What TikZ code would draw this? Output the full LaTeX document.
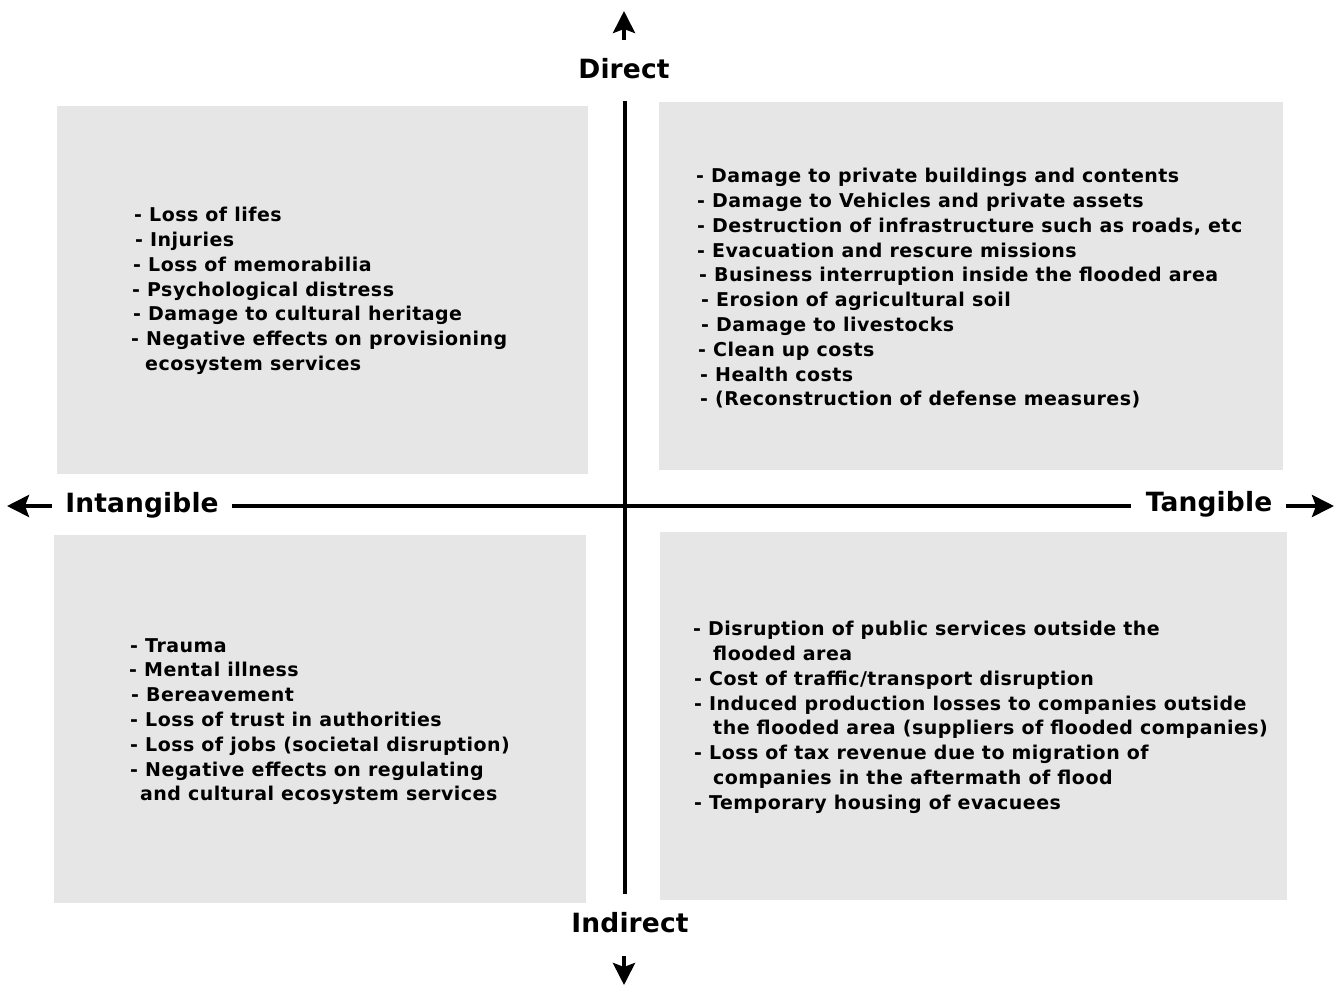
\documentclass[tikz,border=0pt]{standalone}
\usepackage{fontspec}
\setmainfont{DejaVu Sans}
\usetikzlibrary{arrows.meta}
\definecolor{boxgray}{HTML}{E6E6E6}
\tikzset{
  quad/.style={fill=boxgray, draw=none},
  listtext/.style={anchor=north west, inner sep=0pt, align=left, font=\bfseries\fontsize{19}{24.8}\selectfont\addfontfeatures{LetterSpace=2.5}},
  axislabel/.style={inner sep=0pt, font=\bfseries\fontsize{26.5}{30}\selectfont\addfontfeatures{LetterSpace=0.5}},
  axisline/.style={line width=4pt},
  axisarrow/.style={line width=4pt, -{Stealth[length=22pt, width=22pt, inset=4pt]}}
}
\begin{document}
\begin{tikzpicture}[x=1pt, y=-1pt]
\useasboundingbox (0,0) rectangle (1339,985);
% quadrant boxes
\fill[quad] (57,106) rectangle (588,474);
\fill[quad] (659,102) rectangle (1283,470);
\fill[quad] (54,535) rectangle (586,903);
\fill[quad] (660,532) rectangle (1287,900);
% axes
\coordinate (vtop) at (624.5,101);
\coordinate (vbot) at (624.5,894);
\coordinate (hleft) at (232,506);
\coordinate (hright) at (1131,506);
\draw[axisline] (vtop) -- (vbot);
\draw[axisline] (hleft) -- (hright);
% labels
\node[axislabel] (direct) at (624,69) {Direct};
\node[axislabel] (indirect) at (630,923) {Indirect};
\node[axislabel] (intangible) at (142,505) {Intangible};
\node[axislabel] (tangible) at (1209,504) {Tangible};
% arrows
\coordinate (upS) at (624,40); \coordinate (upE) at (624,11);
\coordinate (dnS) at (624,956); \coordinate (dnE) at (624,985);
\coordinate (lfS) at (52,506); \coordinate (lfE) at (7,506);
\coordinate (rtS) at (1286,506); \coordinate (rtE) at (1334,506);
\draw[axisarrow] (upS) -- (upE);
\draw[axisarrow] (dnS) -- (dnE);
\draw[axisarrow] (lfS) -- (lfE);
\draw[axisarrow] (rtS) -- (rtE);
% texts
\node[listtext] (tl) at (131,207) {%
\hspace{3pt}- Loss of lifes\\
\hspace{4pt}- Injuries\\
\hspace{2pt}- Loss of memorabilia\\
\hspace{1pt}- Psychological distress\\
\hspace{2pt}- Damage to cultural heritage\\
- Negative effects on provisioning\\
\hspace{14pt}ecosystem services};
\node[listtext] (tr) at (696,168) {%
- Damage to private buildings and contents\\
\hspace{1pt}- Damage to Vehicles and private assets\\
\hspace{1pt}- Destruction of infrastructure such as roads, etc\\
\hspace{1pt}- Evacuation and rescure missions\\
\hspace{3pt}- Business interruption inside the flooded area\\
\hspace{5pt}- Erosion of agricultural soil\\
\hspace{5pt}- Damage to livestocks\\
\hspace{2pt}- Clean up costs\\
\hspace{4pt}- Health costs\\
\hspace{4pt}- (Reconstruction of defense measures)};
\node[listtext] (bl) at (129,638) {%
\hspace{1pt}- Trauma\\
- Mental illness\\
\hspace{2pt}- Bereavement\\
\hspace{1pt}- Loss of trust in authorities\\
\hspace{1pt}- Loss of jobs (societal disruption)\\
\hspace{1pt}- Negative effects on regulating\\
\hspace{11pt}and cultural ecosystem services};
\node[listtext] (br) at (693,621) {%
- Disruption of public services outside the\\
\hspace{20pt}flooded area\\
\hspace{1pt}- Cost of traffic/transport disruption\\
\hspace{1pt}- Induced production losses to companies outside\\
\hspace{20pt}the flooded area (suppliers of flooded companies)\\
\hspace{1pt}- Loss of tax revenue due to migration of\\
\hspace{20pt}companies in the aftermath of flood\\
\hspace{1pt}- Temporary housing of evacuees};
\end{tikzpicture}
\end{document}
